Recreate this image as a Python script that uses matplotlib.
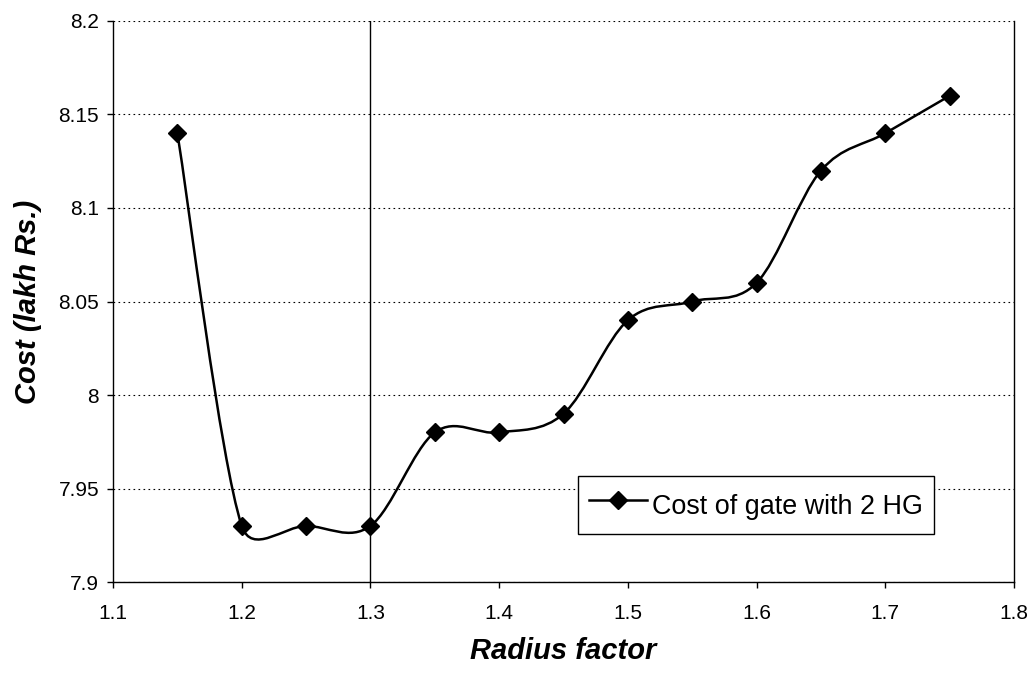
import numpy as np
import matplotlib.pyplot as plt
from matplotlib.path import Path
from matplotlib.patches import PathPatch
from matplotlib.lines import Line2D
from matplotlib.ticker import FuncFormatter

plt.rcParams['font.family'] = ['Liberation Sans', 'DejaVu Sans']

# data
radius_factor = [1.15, 1.20, 1.25, 1.30, 1.35, 1.40, 1.45, 1.50, 1.55, 1.60, 1.65, 1.70, 1.75]
cost = [8.14, 7.93, 7.93, 7.93, 7.98, 7.98, 7.99, 8.04, 8.05, 8.06, 8.12, 8.14, 8.16]
series_name = 'Cost of gate with 2 HG'

fig = plt.figure(figsize=(10.34, 6.77), dpi=100)
ax = fig.add_axes([0.1093, 0.1403, 0.8714, 0.8287])
ax.set_xlim(1.1, 1.8)
ax.set_ylim(7.9, 8.2)

# Excel-like smoothed line: bezier segments, control offsets capped at half the segment
# (distances measured on screen, so use the axes transform)
pts = np.column_stack([radius_factor, cost])
scr = ax.transData.transform(pts)
n = len(pts)
verts = [tuple(pts[0])]
codes = [Path.MOVETO]
for i in range(n - 1):
    i0 = max(i - 1, 0)
    i3 = min(i + 2, n - 1)
    d12 = np.hypot(*(scr[i + 1] - scr[i]))
    d02 = np.hypot(*(scr[i + 1] - scr[i0]))
    d13 = np.hypot(*(scr[i3] - scr[i]))
    f0 = 1 / 6.0
    f1 = 1 / 6.0
    if d02 / 6.0 >= d12 / 2.0:
        f0 = d12 / 2.0 / d02
    if d13 / 6.0 >= d12 / 2.0:
        f1 = d12 / 2.0 / d13
    c1 = pts[i] + f0 * (pts[i + 1] - pts[i0])
    c2 = pts[i + 1] - f1 * (pts[i3] - pts[i])
    verts += [tuple(c1), tuple(c2), tuple(pts[i + 1])]
    codes += [Path.CURVE4, Path.CURVE4, Path.CURVE4]
ax.add_patch(PathPatch(Path(verts, codes), facecolor='none', edgecolor='black', lw=1.8, zorder=3))
ax.plot(radius_factor, cost, ls='none', marker='D', ms=9, color='black', zorder=4)

ax.axvline(1.3, color='black', lw=1.0, zorder=2)

ax.set_xticks(np.arange(1.1, 1.81, 0.1))
ax.set_yticks(np.arange(7.9, 8.201, 0.05))
fmt = FuncFormatter(lambda v, p: '{:g}'.format(round(v, 2)))
ax.xaxis.set_major_formatter(fmt)
ax.yaxis.set_major_formatter(fmt)
ax.tick_params(direction='out', length=4, width=1, labelsize=15, colors='black')
ax.tick_params(axis='x', pad=12)
ax.tick_params(axis='y', pad=6)
ax.yaxis.grid(True, ls=(0, (1.5, 3)), color='black', lw=0.8)
ax.set_axisbelow(True)
ax.spines['top'].set_visible(False)
for s in ['left', 'bottom', 'right']:
    ax.spines[s].set_linewidth(1.0)

ax.set_xlabel('Radius factor', fontsize=21, fontweight='bold', fontstyle='italic', labelpad=10)
ax.set_ylabel('Cost (lakh Rs.)', fontsize=21, fontweight='bold', fontstyle='italic', labelpad=12)

handle = Line2D([], [], color='black', lw=1.8, marker='D', ms=9)
leg = ax.legend([handle], [series_name], loc='lower left', bbox_to_anchor=(0.516, 0.085),
                fontsize=19.4, fancybox=False, framealpha=1, edgecolor='black',
                handlelength=2.15, handleheight=1.75, handletextpad=0.2,
                borderpad=0.4, borderaxespad=0)
leg.get_frame().set_linewidth(1.0)

fig.savefig('out.png', dpi=100)
